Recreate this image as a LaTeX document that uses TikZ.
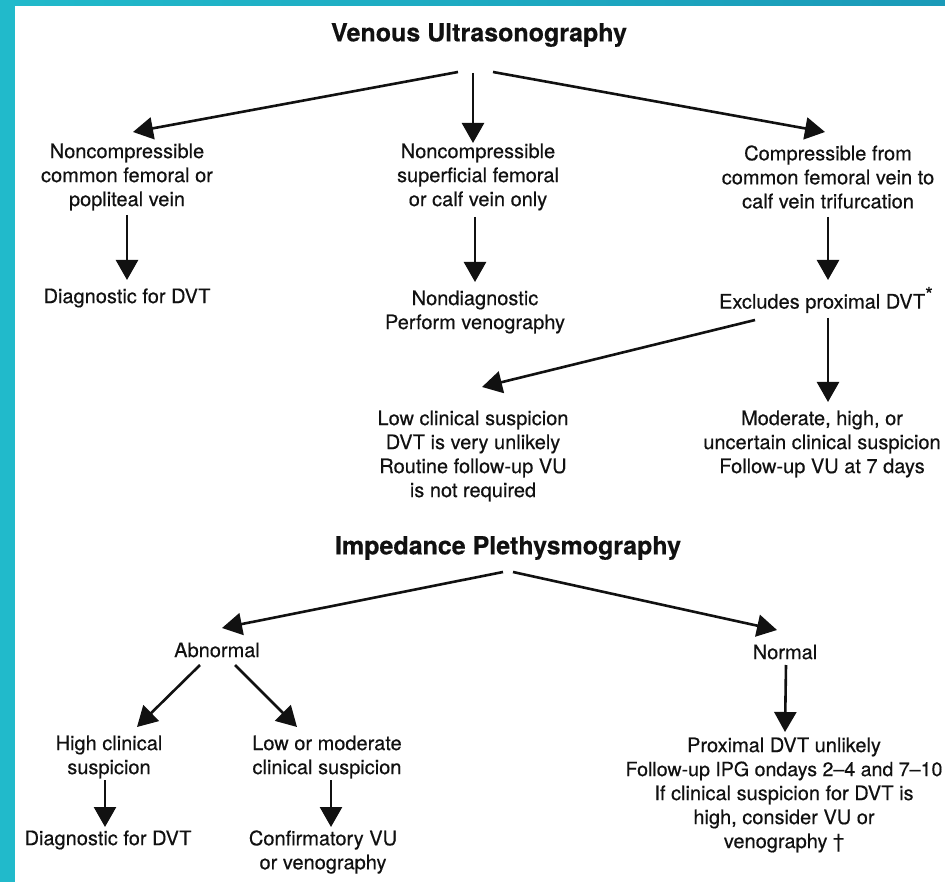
\documentclass[tikz,border=0pt]{standalone}
\usepackage{fontspec}
\setmainfont[FakeBold=0.4]{TeX Gyre Heros}
\newfontfamily\ttlfont[FakeBold=0.6]{TeX Gyre Heros}
\usetikzlibrary{arrows.meta}
\definecolor{tealL}{HTML}{21BACB}
\definecolor{tealR}{HTML}{1A9AB8}
\definecolor{ink}{HTML}{111111}
\begin{document}
\begin{tikzpicture}[x=1pt,y=-1pt,
  txt/.style={align=center,inner sep=0pt,text=ink,font=\fontsize{20}{24}\selectfont},
  ttl/.style={inner sep=0pt,text=ink,font=\fontsize{25}{30}\selectfont\bfseries},
  arr/.style={draw=ink,line width=2.6pt,-{Triangle[width=22pt,length=20pt]}}]
\useasboundingbox (0,0) rectangle (945,882);
\fill[white] (0,0) rectangle (945,882);
\shade[left color=tealL,right color=tealR] (0,0) rectangle (945,6);
\fill[tealL] (0,0) rectangle (15,882);

% Venous Ultrasonography
\node[ttl] (vu) at (479,35) {Venous Ultrasonography};
\node[txt] (n1) at (127,177) {Noncompressible\\common femoral or\\popliteal vein};
\node[txt] (n2) at (478,177) {Noncompressible\\superficial femoral\\or calf vein only};
\node[txt] (n3) at (828,177) {Compressible from\\common femoral vein to\\calf vein trifurcation};
\node[txt] (d1) at (127,298) {Diagnostic for DVT};
\node[txt] (d2) at (475,312) {Nondiagnostic\\Perform venography};
\node[txt] (d3) at (826,300) {Excludes proximal DVT\raisebox{7pt}{*}};
\node[txt] (l1) at (473,456) {Low clinical suspicion\\DVT is very unlikely\\Routine follow-up VU\\is not required};
\node[txt] (m1) at (822,444) {Moderate, high, or\\uncertain clinical suspicion\\Follow-up VU at 7 days};

\draw[arr] ([shift={(-21,37)}]vu.center) -- ([shift={(6,-45)}]n1.center);
\draw[arr] ([shift={(-6,38)}]vu.center) -- ([shift={(-5,-34)}]n2.center);
\draw[arr] ([shift={(14,37)}]vu.center) -- ([shift={(-3,-45)}]n3.center);
\draw[arr] ([shift={(0,38)}]n1.center) -- ([shift={(0,-18)}]d1.center);
\draw[arr] ([shift={(-3,40)}]n2.center) -- ([shift={(0,-30)}]d2.center);
\draw[arr] ([shift={(0,40)}]n3.center) -- ([shift={(2,-20)}]d3.center);
\draw[arr] ([shift={(-71,20)}]d3.center) -- ([shift={(9,-69)}]l1.center);
\draw[arr] ([shift={(2,18)}]d3.center) -- ([shift={(6,-42)}]m1.center);

% Impedance Plethysmography
\node[ttl] (ip) at (508,548) {Impedance Plethysmography};
\node[txt] (ab) at (217,650) {Abnormal};
\node[txt] (no) at (785,652) {Normal};
\node[txt] (h1) at (109,757) {High clinical\\suspicion};
\node[txt] (lo) at (327,757) {Low or moderate\\clinical suspicion};
\node[txt] (dd) at (108,840) {Diagnostic for DVT};
\node[txt] (cv) at (323,852) {Confirmatory VU\\or venography};
\node[txt] (px) at (784,795) {Proximal DVT unlikely\\{\fontsize{19.6}{24}\selectfont Follow-up IPG ondays 2--4 and 7--10}\\If clinical suspicion for DVT is\\high, consider VU or\\venography \textdagger};

\draw[arr] ([shift={(-5,24)}]ip.center) -- ([shift={(5,-22)}]ab.center);
\draw[arr] ([shift={(5,24)}]ip.center) -- ([shift={(-8,-22)}]no.center);
\draw[arr] ([shift={(-17,15)}]ab.center) -- ([shift={(28,-30)}]h1.center);
\draw[arr] ([shift={(18,15)}]ab.center) -- ([shift={(-30,-30)}]lo.center);
\draw[arr] ([shift={(-4,23)}]h1.center) -- ([shift={(-3,-13)}]dd.center);
\draw[arr] ([shift={(4,23)}]lo.center) -- ([shift={(8,-25)}]cv.center);
\draw[arr] ([shift={(1,13)}]no.center) -- ([shift={(1,-63)}]px.center);
\end{tikzpicture}
\end{document}
